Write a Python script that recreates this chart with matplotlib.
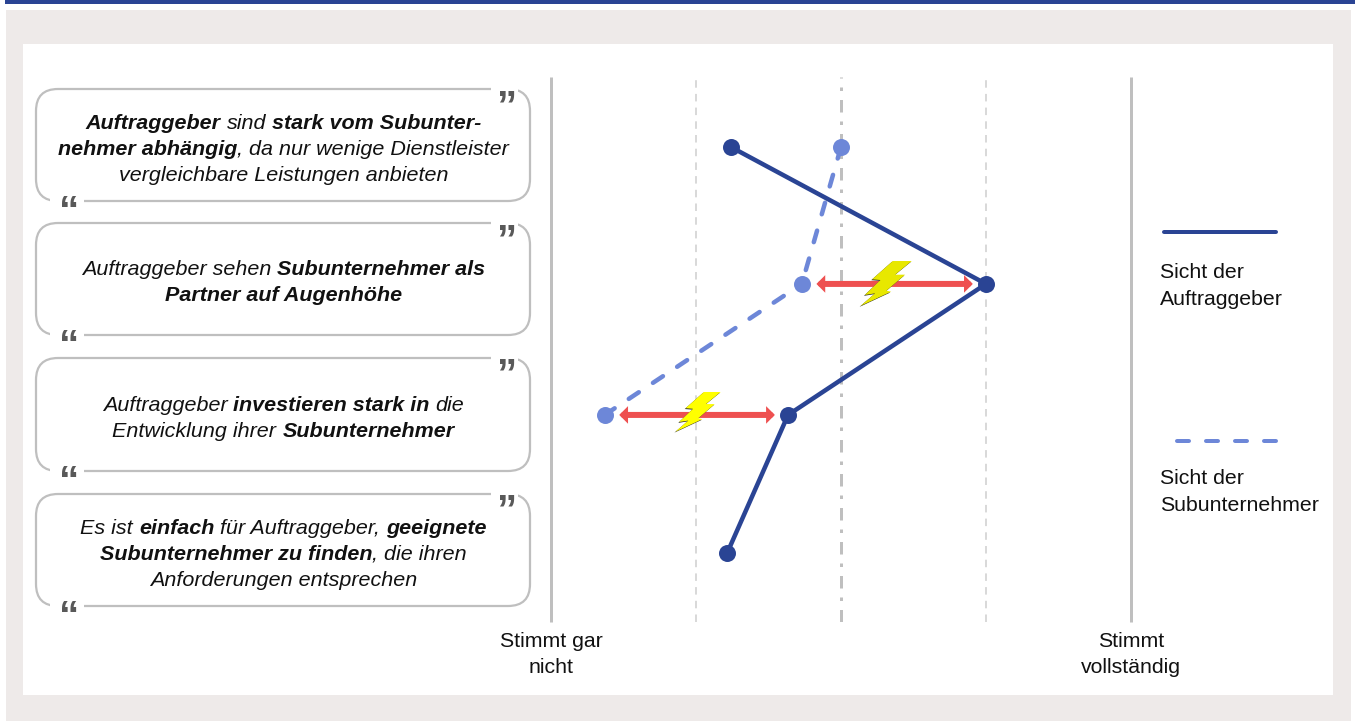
import matplotlib
matplotlib.use('Agg')
from matplotlib import pyplot as plt
from matplotlib.font_manager import FontProperties
from matplotlib.patches import FancyBboxPatch, Rectangle, Polygon
import numpy as np

matplotlib.rcParams.update({'font.family': 'Liberation Sans', 'font.size': 15.3, 'lines.scale_dashes': False})

# row position of each statement, 0 = top statement
rows = [0, 1.012, 1.98, 3]
sicht_auftraggeber = [1.24, 3.0, 1.635, 1.215]
sicht_subunternehmer = [2.0, 1.73, 0.37]
scale_ticks = [0, 4]
scale_labels = ['Stimmt gar\nnicht', 'Stimmt\nvollständig']
legend_labels = ['Sicht der\nAuftraggeber', 'Sicht der\nSubunternehmer']

# each statement: lines of (text, bold) runs
statements = [
    [[('Auftraggeber', True), (' sind ', False), ('stark vom Subunter-', True)],
     [('nehmer abhängig', True), (', da nur wenige Dienstleister', False)],
     [('vergleichbare Leistungen anbieten', False)]],
    [[('Auftraggeber sehen ', False), ('Subunternehmer als', True)],
     [('Partner auf Augenhöhe', True)]],
    [[('Auftraggeber ', False), ('investieren stark in', True), (' die', False)],
     [('Entwicklung ihrer ', False), ('Subunternehmer', True)]],
    [[('Es ist ', False), ('einfach', True), (' für Auftraggeber, ', False), ('geeignete', True)],
     [('Subunternehmer zu finden', True), (', die ihren', False)],
     [('Anforderungen entsprechen', False)]],
]
box_tops = [89, 223, 358, 494]
box_bottoms = [201, 335, 471, 606]
first_baselines = [129, 275, 411, 534]

navy = '#2A4494'
light = '#6D87D8'
grey = '#BFBFBF'
red = '#EE5050'
text_c = '#111111'
W, H = 1355, 721
px = 0.72  # points per pixel at dpi 100
dashes = (0, (12 * px, 17 * px))

fig = plt.figure(figsize=(W / 100, H / 100), dpi=100, facecolor='white')

# background and quote boxes, in pixel coordinates
bg = fig.add_axes([0, 0, 1, 1], zorder=0)
bg.set_xlim(0, W)
bg.set_ylim(H, 0)
bg.axis('off')
bg.add_patch(Rectangle((6, 10), 1345, H - 10, fc='#EEEAE9', ec='none'))
bg.add_patch(Rectangle((5, 0), W - 5, 4, fc=navy, ec='none'))
bg.add_patch(Rectangle((23, 44), 1310, 651, fc='white', ec='none'))

renderer = fig.canvas.get_renderer()
regular = FontProperties(family='Liberation Sans', style='italic', size=15.45)
bold = FontProperties(family='Liberation Sans', style='italic', weight='bold', size=15.45)


def text_width(s, fp):
    # the bars keep leading and trailing spaces in the measurement
    t = fig.text(0, 0, '|' + s + '|', fontproperties=fp)
    w = t.get_window_extent(renderer).width
    t.set_text('||')
    w -= t.get_window_extent(renderer).width
    t.remove()
    return w


def draw_runs(runs, xc, baseline):
    widths = [text_width(s, bold if b else regular) for s, b in runs]
    x = xc - sum(widths) / 2
    for (s, b), w in zip(runs, widths):
        bg.text(x + text_width(' ', regular) * (len(s) - len(s.lstrip())), baseline, s.strip(),
                fontproperties=bold if b else regular, color=text_c, va='baseline', ha='left')
        x += w


for lines, top, bottom, base in zip(statements, box_tops, box_bottoms, first_baselines):
    r = 22
    bg.add_patch(FancyBboxPatch((36 + r, top + r), 494 - 2 * r, bottom - top - 2 * r,
                                boxstyle=f'round,pad={r},rounding_size={r}',
                                fc='white', ec=grey, lw=1.6))
    # gaps in the outline for the quote marks
    bg.add_patch(Rectangle((491, top - 4), 27, 12, fc='white', ec='none'))
    bg.add_patch(Rectangle((50, bottom - 8), 34, 12, fc='white', ec='none'))
    bg.text(506.5, top + 29, '”', fontfamily='Liberation Sans', fontweight='bold', fontsize=29,
            color='#595959', ha='center', va='baseline')
    bg.text(69, bottom + 23, '“', fontfamily='Liberation Sans', fontweight='bold', fontsize=29,
            color='#595959', ha='center', va='baseline')
    for i, runs in enumerate(lines):
        draw_runs(runs, 283.5, base + i * 25.8)

# legend
bg.plot([1164, 1276], [232, 232], color=navy, lw=4 * px, solid_capstyle='round')
bg.plot([1276, 1175], [441, 441], color=light, lw=4 * px, dash_capstyle='round', linestyle=dashes)
for label, y in zip(legend_labels, [286, 492]):
    bg.text(1160, y, label, color=text_c, ha='left', va='center', linespacing=1.5)

# the rating scale
ax = fig.add_axes([551 / W, (H - 622) / H, 580 / W, 545 / H], zorder=1)
ax.patch.set_visible(False)
ax.set_xlim(0, 4)
ax.set_ylim(3.51, -0.517)
for s in ax.spines.values():
    s.set_visible(False)
ax.set_yticks([])
ax.set_xticks(scale_ticks, scale_labels, color=text_c, linespacing=1.5)
ax.tick_params(axis='x', length=0, pad=7)

ax.axvline(0, color=grey, lw=3 * px, clip_on=False, solid_capstyle='butt')
ax.axvline(4, color=grey, lw=3 * px, clip_on=False, solid_capstyle='butt')
ax.axvline(1, color='#D9D9D9', lw=2 * px, linestyle=(0, (7.5 * px, 6.2 * px)))
ax.axvline(3, color='#D9D9D9', lw=2 * px, linestyle=(0, (7.5 * px, 6.2 * px)))
ax.axvline(2, color=grey, lw=3 * px, linestyle=(0, (12.5 * px, 9 * px, 3.5 * px, 9 * px)))

# dashed line: each segment runs towards the middle point, so the dash pattern starts at the outer points
ax.plot(sicht_subunternehmer[:2], rows[:2], color=light, lw=4.5 * px,
        linestyle=dashes, dash_capstyle='round', zorder=3)
ax.plot(sicht_subunternehmer[:0:-1], rows[2:0:-1], color=light, lw=4.5 * px,
        linestyle=dashes, dash_capstyle='round', zorder=3)
ax.plot(sicht_subunternehmer, rows[:3], color=light, linestyle='none', marker='o', ms=17 * px, mew=0, zorder=3)
ax.plot(sicht_auftraggeber, rows, color=navy, lw=4.5 * px, marker='o', ms=17 * px, mew=0, zorder=4)

# red arrows between the two views
for r, a, b in [(1, sicht_subunternehmer[1], sicht_auftraggeber[1]),
                (2, sicht_subunternehmer[2], sicht_auftraggeber[2])]:
    ax.annotate('', xy=(b, rows[r]), xytext=(a, rows[r]), zorder=5,
                arrowprops=dict(arrowstyle='<|-|>,head_length=0.08,head_width=0.08', color=red,
                                lw=6 * px, shrinkA=10.5, shrinkB=9.5, mutation_scale=14,
                                joinstyle='miter'))

# lightning bolts on top of the arrows
top = fig.add_axes([0, 0, 1, 1], zorder=2)
top.set_xlim(0, W)
top.set_ylim(H, 0)
top.axis('off')
bolt = np.array([(905, 33), (962, 33), (912, 74), (942, 74), (886, 122), (900, 125),
                 (808, 168), (852, 130), (821, 135), (868, 90), (843, 88)], dtype=float) / 3
bolt -= bolt.mean(axis=0)
for (cx, cy), size, colour in [((885, 282.5), 1.0, '#E8E800'), ((697, 411), 0.885, '#FFFF00')]:
    pts = bolt * size + (cx, cy)
    top.add_patch(Polygon(pts + (-0.8, 0.8), fc='#222222', ec='none'))
    top.add_patch(Polygon(pts, fc=colour, ec='none'))

fig.savefig('out.png', dpi=100)
